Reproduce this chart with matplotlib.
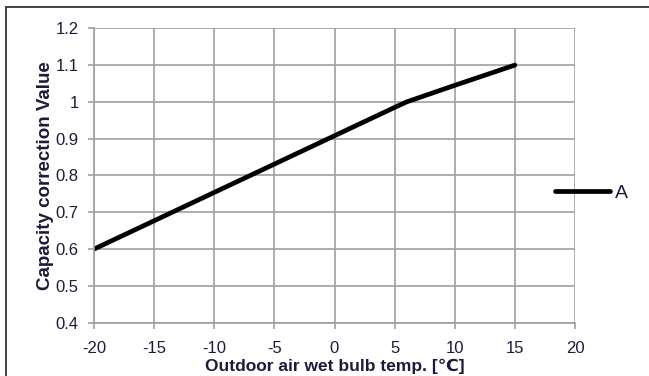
import matplotlib.pyplot as plt
from matplotlib.patches import Rectangle

# valores
temp = [-20, -15, -10, -5, 0, 5, 6, 10, 15]
fator = [0.60, 0.677, 0.754, 0.831, 0.908, 0.985, 1.0, 1.045, 1.10]
serie = "A"

xticks = [-20, -15, -10, -5, 0, 5, 10, 15, 20]
yticks = [0.4, 0.5, 0.6, 0.7, 0.8, 0.9, 1.0, 1.1, 1.2]
ytick_labels = ["0.4", "0.5", "0.6", "0.7", "0.8", "0.9", "1", "1.1", "1.2"]

plt.rcParams["font.family"] = ["Liberation Sans", "DejaVu Sans"]
plt.rcParams["axes.unicode_minus"] = False
texto = "#1c1c3a"
cinza = "#a0a0a0"

W, H = 649, 376
fig = plt.figure(figsize=(W / 100, H / 100), dpi=100)
ax = fig.add_axes([94 / W, 1 - 322.7 / H, (575 - 94) / W, (322.7 - 28.3) / H])

# moldura recortada (só topo e esquerda visíveis)
fig.patches.append(Rectangle((6 / W, -0.1), 1.2, 1 - 7 / H + 0.1, transform=fig.transFigure,
                             fill=False, edgecolor="#333333", linewidth=1.3))

ax.plot(temp, fator, color="black", linewidth=3.4, solid_capstyle="round",
        solid_joinstyle="round", label=serie)

ax.set_xlim(-20, 20)
ax.set_ylim(0.4, 1.2)
ax.set_xticks(xticks)
ax.set_yticks(yticks)
ax.set_yticklabels(ytick_labels)
ax.grid(True, color=cinza, linewidth=1.2)
for lado in ["top", "right"]:
    ax.spines[lado].set_visible(False)
for lado in ["left", "bottom"]:
    ax.spines[lado].set_color(cinza)
    ax.spines[lado].set_linewidth(1.2)
ax.tick_params(direction="out", length=4, width=1.2, color=cinza,
               labelsize=12, labelcolor=texto)
ax.tick_params(axis="x", pad=9)
ax.tick_params(axis="y", pad=7)

ax.set_xlabel("Outdoor air wet bulb temp. [\u2103]", fontsize=12.5, fontweight="bold",
              color=texto, labelpad=2)
ax.set_ylabel("Capacity correction Value", fontsize=13.5, fontweight="bold",
              color=texto, labelpad=1)

fig.legend(loc="center left", bbox_to_anchor=(555 / W, 1 - 193 / H), frameon=False,
           fontsize=14, handlelength=2.85, handletextpad=0.25, borderpad=0, borderaxespad=0,
           labelcolor=texto)

fig.savefig("out.png", dpi=100)
